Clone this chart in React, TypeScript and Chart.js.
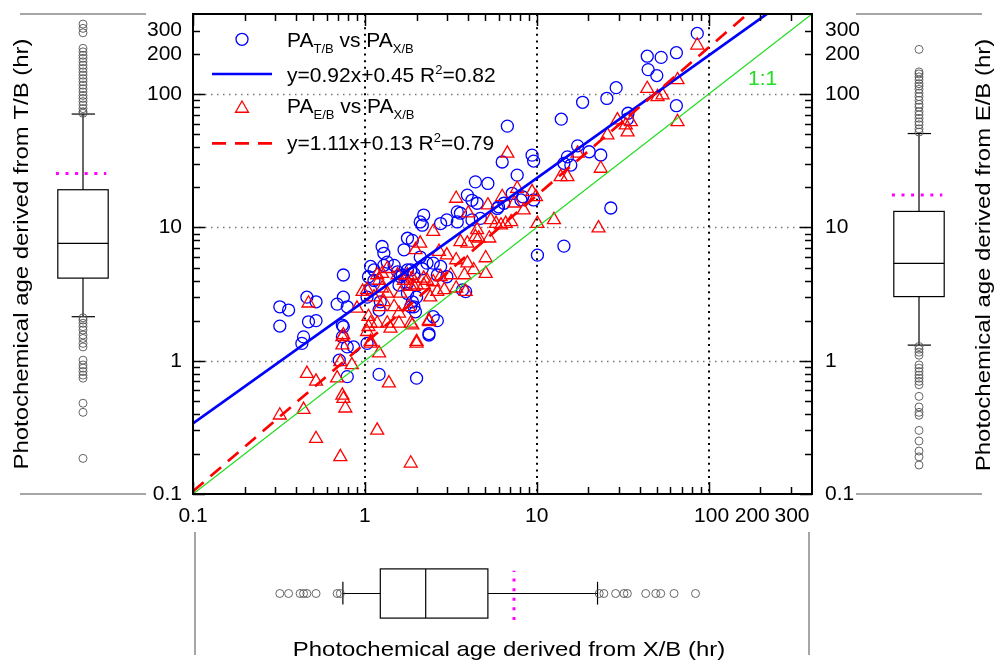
import React, { useEffect, useRef } from "react";
import { Chart, registerables } from "chart.js";

Chart.register(...registerables);

const FONT = '"Liberation Sans", Arial, Helvetica, sans-serif';
const W = 1000;
const H = 663;

// ---------- axes ----------
const AXIS_MIN = 0.1;
const AXIS_MAX = 400;
const TICK_LABELS = [0.1, 1, 10, 100, 200, 300];
const X_LABEL_SHIFT = [0, 0, 0, 3, -8, 1.5];
const DECADES = [0.1, 1, 10, 100];
const GRID_VALUES = [1, 10, 100];
const MINOR_TICKS = DECADES.flatMap((d) => [2, 3, 4, 5, 6, 7, 8, 9].map((m) => +(d * m).toPrecision(3))).filter((v) => v < AXIS_MAX);

// ---------- scatter data: [PA X/B, PA T/B] ----------
const PA_TB: [number, number][] = [
  [86, 286], [44, 193], [53, 189], [65, 205], [44.5, 153], [50, 138], [29, 112], [25.6, 93], [18.5, 87], [13.9, 65],
  [65, 82], [34, 72], [33.7, 65], [6.75, 57.6], [9.4, 34.9], [9.6, 31.5], [17.3, 41], [20.2, 37], [23.6, 35], [27, 14],
  [14.4, 7.25], [10.1, 6.2], [6.3, 31], [7.7, 24.7], [4.4, 22], [5.2, 21.4], [3.95, 17.5], [4.2, 16], [4.5, 15.2], [3.45, 13.1],
  [3.6, 12.8], [2.2, 12.4], [2.1, 11], [2.16, 10.4], [2.76, 10.7], [3.0, 11.4], [3.45, 11], [4.2, 11.4], [4.7, 11.7], [5.9, 13.9],
  [6.45, 15.2], [8.1, 16.1], [7.2, 18], [8.3, 17], [9.6, 16.1], [14.4, 30.3], [15.8, 29.4], [15.1, 33.9], [6.0, 14.3], [1.77, 8.3],
  [1.89, 8.0], [1.69, 6.8], [1.26, 7.2], [1.29, 6.4], [1.08, 5.1], [1.13, 4.8], [1.29, 5.2], [1.35, 5.5], [1.48, 5.2], [0.75, 4.4],
  [1.05, 4.27], [1.13, 4.0], [1.55, 4.65], [1.65, 4.4], [1.77, 4.8], [1.93, 4.5], [2.16, 4.9], [2.3, 5.4], [2.5, 5.4], [2.76, 5.1],
  [3.0, 4.27], [2.64, 4.4], [1.77, 3.8], [1.77, 3.2], [1.89, 2.77], [1.93, 2.54], [1.23, 2.77], [1.21, 2.4], [1.08, 3.4], [1.03, 3.0],
  [0.75, 3.0], [0.79, 2.54], [0.75, 1.8], [0.79, 1.27], [2.5, 2.14], [2.64, 2.0], [2.36, 1.6], [2.0, 3.0], [3.86, 3.3], [3.7, 3.4],
  [2.1, 6.0], [1.85, 4.8], [1.61, 4.27], [1.58, 3.7], [1.85, 2.54], [1.97, 2.33], [0.46, 3.0], [0.52, 2.77], [0.32, 2.54], [0.36, 2.4],
  [0.69, 2.66], [0.47, 1.96], [0.52, 2.0], [0.74, 1.85], [0.32, 1.82], [0.44, 1.51], [0.43, 1.35], [0.74, 1.51], [0.86, 1.27], [0.71, 1.01],
  [0.79, 0.76], [1.21, 0.79], [2.0, 0.74], [2.36, 1.56], [1.03, 1.35],
];

// [PA X/B, PA E/B]
const PA_EB: [number, number][] = [
  [86, 233], [44, 110], [50.5, 95.6], [54, 98.5], [66, 128], [66, 62], [29.5, 64], [33, 58.7], [35.3, 62], [33.8, 52],
  [25.8, 49.3], [23.6, 27.7], [17.3, 36], [6.75, 36], [3.4, 16.5], [4.0, 12.8], [5.2, 14.7], [7.7, 19.6], [6.3, 17], [7.4, 15.2],
  [8.4, 13.5], [9.4, 18.5], [9.9, 17], [12.6, 11.4], [10.1, 10.7], [15.1, 24], [13.8, 24], [7.1, 11], [6.2, 10.4], [5.4, 11.4],
  [4.4, 8.5], [5.3, 8.3], [3.95, 7.6], [3.6, 7.8], [4.5, 9.6], [2.5, 9.3], [2.1, 7.6], [1.97, 6.8], [2.7, 6.6], [3.0, 6.2],
  [3.4, 5.7], [3.95, 5.4], [4.3, 4.8], [5.05, 5.9], [3.8, 4.4], [3.16, 4.4], [2.76, 4.27], [2.5, 3.9], [2.2, 4.15], [1.89, 4.15],
  [1.77, 4.4], [2.2, 3.7], [2.0, 3.7], [1.85, 3.6], [1.61, 3.2], [1.35, 3.2], [1.26, 3.5], [1.21, 4.0], [1.26, 4.5], [1.35, 4.9],
  [1.55, 4.4], [1.69, 4.0], [0.97, 3.3], [1.13, 3.0], [1.29, 2.77], [1.48, 2.54], [1.58, 2.27], [1.8, 2.54], [1.08, 1.91], [1.03, 1.65],
  [1.08, 1.39], [0.75, 1.56], [1.89, 1.85], [2.36, 2.0], [2.0, 1.39], [1.41, 1.75], [3.4, 3.5], [3.86, 3.3], [2.64, 3.3], [2.4, 3.0],
  [5.05, 4.5], [4.6, 8.3], [5.8, 10.7], [6.6, 10.7], [1.18, 4.4], [1.03, 3.4], [1.23, 2.54], [1.05, 2.14], [1.18, 1.91], [1.93, 3.6],
  [2.3, 4.0], [2.9, 3.4], [1.85, 1.91], [0.47, 2.7], [0.9, 2.47], [0.46, 0.8], [0.52, 0.7], [0.69, 0.74], [0.74, 1.51], [0.74, 1.31],
  [0.84, 0.93], [0.72, 0.98], [0.74, 0.55], [0.75, 0.52], [0.77, 0.44], [0.44, 0.43], [0.32, 0.39], [0.52, 0.26], [0.72, 0.19], [1.18, 0.3],
  [1.38, 0.68], [1.21, 1.14], [1.08, 1.35], [1.05, 1.8], [2.0, 1.35], [1.85, 0.17], [1.35, 1.91], [1.58, 1.91], [2.36, 1.96], [22.9, 9.9],
];

// regression lines in log-log space: log10(y) = slope*log10(x) + intercept
const FIT_TB = { slope: 0.92, intercept: 0.45 };
const FIT_EB = { slope: 1.11, intercept: 0.13 };

// ---------- box plot statistics ----------
const BOX_TB = { low: 2.14, q1: 4.17, median: 7.6, q3: 19.2, high: 71, mean: 25.4 };
const OUTLIERS_TB = [336, 312, 289, 221, 208, 196, 186, 175, 165, 156, 147, 139, 131, 124, 117, 110, 104, 98, 93, 88, 83, 78, 74, 72,
  2.1, 2.02, 1.91, 1.8, 1.7, 1.56, 1.47, 1.35, 1.27, 1.01, 0.93, 0.88, 0.83, 0.78, 0.74, 0.48, 0.41, 0.185];

const BOX_EB = { low: 1.31, q1: 3.03, median: 5.37, q3: 13.2, high: 50.7, mean: 17.5 };
const OUTLIERS_EB = [217, 147, 142, 135, 128, 120, 115, 109, 102, 96, 90, 84, 80, 74, 70, 66, 62, 59, 55, 52,
  1.28, 1.22, 1.16, 1.1, 0.93, 0.88, 0.83, 0.78, 0.74, 0.7, 0.66, 0.54, 0.45, 0.41, 0.39, 0.3, 0.25, 0.21, 0.19, 0.165];

const BOX_XB = { low: 0.745, q1: 1.23, median: 2.26, q3: 5.2, high: 22.6, mean: 7.38 };
const OUTLIERS_XB = [0.32, 0.36, 0.42, 0.44, 0.46, 0.52, 0.69, 0.72, 23.1, 24.6, 28.8, 32.2, 33.7, 43.1, 49.3, 52.7, 63, 84];

// ---------- texts ----------
type Part = { t: string; mode?: "sub" | "sup" };
const LEGEND_TB: Part[] = [{ t: "PA" }, { t: "T/B", mode: "sub" }, { t: " vs " }, { t: "PA" }, { t: "X/B", mode: "sub" }];
const LEGEND_FIT_TB: Part[] = [{ t: "y=0.92x+0.45 R" }, { t: "2", mode: "sup" }, { t: "=0.82" }];
const LEGEND_EB: Part[] = [{ t: "PA" }, { t: "E/B", mode: "sub" }, { t: " vs " }, { t: "PA" }, { t: "X/B", mode: "sub" }];
const LEGEND_FIT_EB: Part[] = [{ t: "y=1.11x+0.13 R" }, { t: "2", mode: "sup" }, { t: "=0.79" }];
const LABEL_1TO1 = "1:1";
const TITLE_TB = "Photochemical age derived from T/B (hr)";
const TITLE_EB = "Photochemical age derived from E/B (hr)";
const TITLE_XB = "Photochemical age derived from X/B (hr)";

// ---------- styles ----------
const BLUE = "#0000ff";
const RED = "#ff0000";
const GREEN = "#22dd22";
const MAGENTA = "#ff00ff";
const MAIN_AREA = { left: 193, top: 14, right: 812, bottom: 494 };
const LEFT_AREA = { left: 20, top: 14, right: 146, bottom: 494 };
const RIGHT_AREA = { left: 856, top: 14, right: 982, bottom: 494 };
const BOTTOM_AREA = { left: 193, top: 532, right: 812, bottom: 655 };
const TITLE_SIZE = 21;
const TITLE_STRETCH = 1.14;
const TICK_FONT_SIZE = 21;

function seg(ctx: CanvasRenderingContext2D, x1: number, y1: number, x2: number, y2: number) {
  ctx.beginPath();
  ctx.moveTo(x1, y1);
  ctx.lineTo(x2, y2);
  ctx.stroke();
}

function fitLine(f: { slope: number; intercept: number }) {
  return [AXIS_MIN, AXIS_MAX].map((x) => ({ x, y: Math.pow(10, f.slope * Math.log10(x) + f.intercept) }));
}

function drawRich(ctx: CanvasRenderingContext2D, parts: Part[], x: number, y: number) {
  let cx = x;
  ctx.textAlign = "left";
  ctx.textBaseline = "alphabetic";
  for (const p of parts) {
    const size = p.mode ? 13 : 21;
    const dy = p.mode === "sub" ? 6 : p.mode === "sup" ? -8 : 0;
    ctx.font = `${size}px ${FONT}`;
    ctx.fillText(p.t, cx, y + dy);
    cx += ctx.measureText(p.t).width;
  }
}

function drawTitle(ctx: CanvasRenderingContext2D, text: string, x: number, y: number, vertical: boolean) {
  ctx.save();
  ctx.translate(x, y);
  if (vertical) ctx.rotate(-Math.PI / 2);
  ctx.scale(TITLE_STRETCH, 1);
  ctx.font = `${TITLE_SIZE}px ${FONT}`;
  ctx.fillStyle = "#000";
  ctx.textAlign = "center";
  ctx.textBaseline = "alphabetic";
  ctx.fillText(text, 0, 0);
  ctx.restore();
}

function paddingFor(area: { left: number; top: number; right: number; bottom: number }, extra = { l: 0, r: 0, b: 0 }) {
  return { left: area.left - extra.l, top: area.top, right: W - area.right - extra.r, bottom: H - area.bottom - extra.b };
}

function logAxis(position: string, size: number, pad: number, showLabels: boolean) {
  return {
    type: "logarithmic",
    position,
    min: AXIS_MIN,
    max: AXIS_MAX,
    bounds: "data",
    grid: { display: false, drawTicks: false },
    border: { display: false },
    ticks: {
      display: showLabels,
      autoSkip: false,
      maxRotation: 0,
      minRotation: 0,
      padding: pad,
      color: "#000",
      font: { family: FONT, size: TICK_FONT_SIZE },
      callback: (v: any) => String(v),
    },
    afterBuildTicks: (s: any) => {
      s.ticks = TICK_LABELS.map((v) => ({ value: v }));
    },
    afterFit: (s: any) => {
      if (position === "bottom") s.height = size;
      else s.width = size;
      s.paddingLeft = 0;
      s.paddingRight = 0;
      s.paddingTop = 0;
      s.paddingBottom = 0;
    },
  };
}

const mainDecor = {
  id: "mainDecor",
  beforeDatasetsDraw(chart: any) {
    const { ctx, chartArea: a, scales } = chart;
    const x = scales.x;
    const y = scales.y;
    ctx.save();
    ctx.lineCap = "butt";
    ctx.strokeStyle = "#000";
    ctx.lineWidth = 2;
    ctx.setLineDash([2, 4.6]);
    for (const v of GRID_VALUES) {
      const px = Math.round(x.getPixelForValue(v));
      seg(ctx, px, a.top, px, a.bottom);
    }
    ctx.strokeStyle = "#777";
    ctx.lineWidth = 1.5;
    ctx.setLineDash([1.5, 4.5]);
    for (const v of GRID_VALUES) {
      const py = Math.round(y.getPixelForValue(v)) + 0.5;
      seg(ctx, a.left, py, a.right, py);
    }
    ctx.restore();
  },
  afterDatasetsDraw(chart: any) {
    const { ctx, chartArea: a, scales } = chart;
    const x = scales.x;
    const y = scales.y;
    ctx.save();
    ctx.strokeStyle = "#000";
    ctx.lineWidth = 1.5;
    const ticks = [
      ...DECADES.map((v) => ({ v, len: 12 })),
      ...MINOR_TICKS.map((v) => ({ v, len: 7 })),
    ];
    for (const t of ticks) {
      const px = Math.round(x.getPixelForValue(t.v)) + 0.5;
      seg(ctx, px, a.bottom, px, a.bottom - t.len);
      seg(ctx, px, a.top, px, a.top + t.len);
      const py = Math.round(y.getPixelForValue(t.v)) + 0.5;
      seg(ctx, a.left, py, a.left + t.len, py);
      seg(ctx, a.right, py, a.right - t.len, py);
    }
    ctx.lineWidth = 2;
    ctx.strokeRect(a.left, a.top, a.right - a.left, a.bottom - a.top);

    // x tick labels (drawn here so that crowded 100/200/300 can be nudged apart)
    ctx.fillStyle = "#000";
    ctx.font = `${TICK_FONT_SIZE}px ${FONT}`;
    ctx.textAlign = "center";
    ctx.textBaseline = "top";
    TICK_LABELS.forEach((v, i) => {
      ctx.fillText(String(v), x.getPixelForValue(v) + X_LABEL_SHIFT[i], a.bottom + 12);
    });

    // legend
    const lx = a.left;
    const ly = a.top;
    ctx.lineWidth = 1.3;
    ctx.strokeStyle = BLUE;
    ctx.beginPath();
    ctx.arc(lx + 49, ly + 25.3, 6, 0, Math.PI * 2);
    ctx.stroke();
    ctx.lineWidth = 2.7;
    seg(ctx, lx + 19, ly + 60, lx + 79, ly + 60);
    ctx.strokeStyle = RED;
    ctx.lineWidth = 1.3;
    const tr = 7.5;
    const tcx = lx + 49;
    const tcy = ly + 94.5;
    ctx.beginPath();
    ctx.moveTo(tcx, tcy - tr);
    ctx.lineTo(tcx + tr * 0.866, tcy + tr * 0.5);
    ctx.lineTo(tcx - tr * 0.866, tcy + tr * 0.5);
    ctx.closePath();
    ctx.stroke();
    ctx.lineWidth = 2.7;
    ctx.setLineDash([14, 9]);
    seg(ctx, lx + 19, ly + 129.3, lx + 79, ly + 129.3);
    ctx.setLineDash([]);
    ctx.fillStyle = "#000";
    drawRich(ctx, LEGEND_TB, lx + 94, ly + 32.7);
    drawRich(ctx, LEGEND_FIT_TB, lx + 94, ly + 67.7);
    drawRich(ctx, LEGEND_EB, lx + 94, ly + 99.3);
    drawRich(ctx, LEGEND_FIT_EB, lx + 94, ly + 136);

    ctx.fillStyle = GREEN;
    ctx.font = `21px ${FONT}`;
    ctx.textAlign = "left";
    ctx.textBaseline = "alphabetic";
    ctx.fillText(LABEL_1TO1, a.right - 64, a.top + 71);
    ctx.restore();
  },
};

const BOX_SPAN = [0.3, 0.7];
const MEAN_SPAN = [0.285, 0.685];
const CAP_SPAN = [0.41, 0.595];
const BOX_CENTER = 0.5;

function makeBoxPlugin(stats: any, horizontal: boolean, title: string, titlePos: { x: number; y: number }) {
  return {
    id: "boxDraw",
    beforeDatasetsDraw(chart: any) {
      const { ctx, chartArea: a, scales } = chart;
      const vs = horizontal ? scales.x : scales.y;
      const ps = horizontal ? scales.y : scales.x;
      const pt = (v: number, p: number) =>
        horizontal ? [vs.getPixelForValue(v), ps.getPixelForValue(p)] : [ps.getPixelForValue(p), vs.getPixelForValue(v)];
      const line = (v1: number, p1: number, v2: number, p2: number) => {
        const [x1, y1] = pt(v1, p1);
        const [x2, y2] = pt(v2, p2);
        seg(ctx, x1, y1, x2, y2);
      };
      ctx.save();
      // gray frame lines
      ctx.strokeStyle = "#888";
      ctx.lineWidth = 1.5;
      if (horizontal) {
        seg(ctx, a.left + 2, a.top, a.left + 2, a.bottom);
        seg(ctx, a.right - 3, a.top, a.right - 3, a.bottom);
      } else {
        seg(ctx, a.left, a.top, a.right, a.top);
        seg(ctx, a.left, a.bottom, a.right, a.bottom);
      }
      ctx.strokeStyle = "#000";
      ctx.lineWidth = 1.2;
      // box
      const [bx1, by1] = pt(stats.q1, BOX_SPAN[0]);
      const [bx2, by2] = pt(stats.q3, BOX_SPAN[1]);
      ctx.strokeRect(Math.min(bx1, bx2), Math.min(by1, by2), Math.abs(bx2 - bx1), Math.abs(by2 - by1));
      line(stats.median, BOX_SPAN[0], stats.median, BOX_SPAN[1]);
      line(stats.q3, BOX_CENTER, stats.high, BOX_CENTER);
      line(stats.q1, BOX_CENTER, stats.low, BOX_CENTER);
      line(stats.high, CAP_SPAN[0], stats.high, CAP_SPAN[1]);
      line(stats.low, CAP_SPAN[0], stats.low, CAP_SPAN[1]);
      // mean
      ctx.strokeStyle = MAGENTA;
      ctx.lineWidth = 3;
      ctx.setLineDash([3, 6.6]);
      line(stats.mean, MEAN_SPAN[0], stats.mean, MEAN_SPAN[1]);
      ctx.setLineDash([]);
      ctx.restore();
      drawTitle(ctx, title, titlePos.x, titlePos.y, !horizontal);
    },
  };
}

function boxConfig(values: number[], stats: any, horizontal: boolean, area: any, title: string, titlePos: any) {
  const logScale = { type: "logarithmic", min: AXIS_MIN, max: AXIS_MAX, bounds: "data", display: false };
  const linScale = { type: "linear", min: 0, max: 1, display: false };
  return {
    type: "scatter",
    data: {
      datasets: [
        {
          data: values.map((v) => (horizontal ? { x: v, y: BOX_CENTER } : { x: BOX_CENTER, y: v })),
          pointStyle: "circle",
          radius: 4,
          borderWidth: 0.9,
          borderColor: "#555",
          backgroundColor: "rgba(0,0,0,0)",
        },
      ],
    },
    options: {
      animation: false,
      responsive: false,
      events: [],
      layout: { padding: paddingFor(area) },
      plugins: { legend: { display: false }, tooltip: { enabled: false } },
      scales: horizontal ? { x: logScale, y: linScale } : { x: linScale, y: logScale },
    },
    plugins: [makeBoxPlugin(stats, horizontal, title, titlePos)],
  };
}

function mainConfig() {
  return {
    type: "scatter",
    data: {
      datasets: [
        {
          type: "line",
          data: fitLine(FIT_EB),
          borderColor: RED,
          borderWidth: 2.7,
          borderDash: [14, 9],
          pointRadius: 0,
          fill: false,
          clip: 0,
          order: 0,
        },
        {
          type: "line",
          data: fitLine(FIT_TB),
          borderColor: BLUE,
          borderWidth: 2.7,
          pointRadius: 0,
          fill: false,
          clip: 0,
          order: 1,
        },
        {
          type: "line",
          data: [{ x: AXIS_MIN, y: AXIS_MIN }, { x: AXIS_MAX, y: AXIS_MAX }],
          borderColor: GREEN,
          borderWidth: 1.3,
          pointRadius: 0,
          fill: false,
          clip: 0,
          order: 2,
        },
        {
          data: PA_EB.map(([x, y]) => ({ x, y })),
          pointStyle: "triangle",
          radius: 7.5,
          borderWidth: 1.3,
          borderColor: RED,
          backgroundColor: "rgba(0,0,0,0)",
          order: 3,
        },
        {
          data: PA_TB.map(([x, y]) => ({ x, y })),
          pointStyle: "circle",
          radius: 6,
          borderWidth: 1.3,
          borderColor: BLUE,
          backgroundColor: "rgba(0,0,0,0)",
          order: 4,
        },
      ],
    },
    options: {
      animation: false,
      responsive: false,
      events: [],
      layout: { padding: paddingFor(MAIN_AREA, { l: 60, r: 60, b: 40 }) },
      plugins: { legend: { display: false }, tooltip: { enabled: false } },
      scales: {
        x: logAxis("bottom", 40, 12, false),
        y: logAxis("left", 60, 11, true),
        y2: logAxis("right", 60, 13, true),
      },
    },
    plugins: [mainDecor],
  };
}

const layerStyle: React.CSSProperties = { position: "absolute", left: 0, top: 0, width: W, height: H };

export default function App() {
  const mainRef = useRef<HTMLCanvasElement>(null);
  const leftRef = useRef<HTMLCanvasElement>(null);
  const rightRef = useRef<HTMLCanvasElement>(null);
  const bottomRef = useRef<HTMLCanvasElement>(null);

  useEffect(() => {
    const charts: Chart[] = [];
    charts.push(new Chart(mainRef.current as any, mainConfig() as any));
    charts.push(new Chart(leftRef.current as any, boxConfig(OUTLIERS_TB, BOX_TB, false, LEFT_AREA, TITLE_TB, { x: 28, y: 254 }) as any));
    charts.push(new Chart(rightRef.current as any, boxConfig(OUTLIERS_EB, BOX_EB, false, RIGHT_AREA, TITLE_EB, { x: 990, y: 255 }) as any));
    charts.push(new Chart(bottomRef.current as any, boxConfig(OUTLIERS_XB, BOX_XB, true, BOTTOM_AREA, TITLE_XB, { x: 509, y: 656 }) as any));
    return () => charts.forEach((c) => c.destroy());
  }, []);

  return (
    <div style={{ position: "absolute", left: 0, top: 0, width: W, height: H, background: "#fff", overflow: "hidden" }}>
      <canvas ref={mainRef} width={W} height={H} style={layerStyle} />
      <canvas ref={leftRef} width={W} height={H} style={layerStyle} />
      <canvas ref={rightRef} width={W} height={H} style={layerStyle} />
      <canvas ref={bottomRef} width={W} height={H} style={layerStyle} />
    </div>
  );
}
